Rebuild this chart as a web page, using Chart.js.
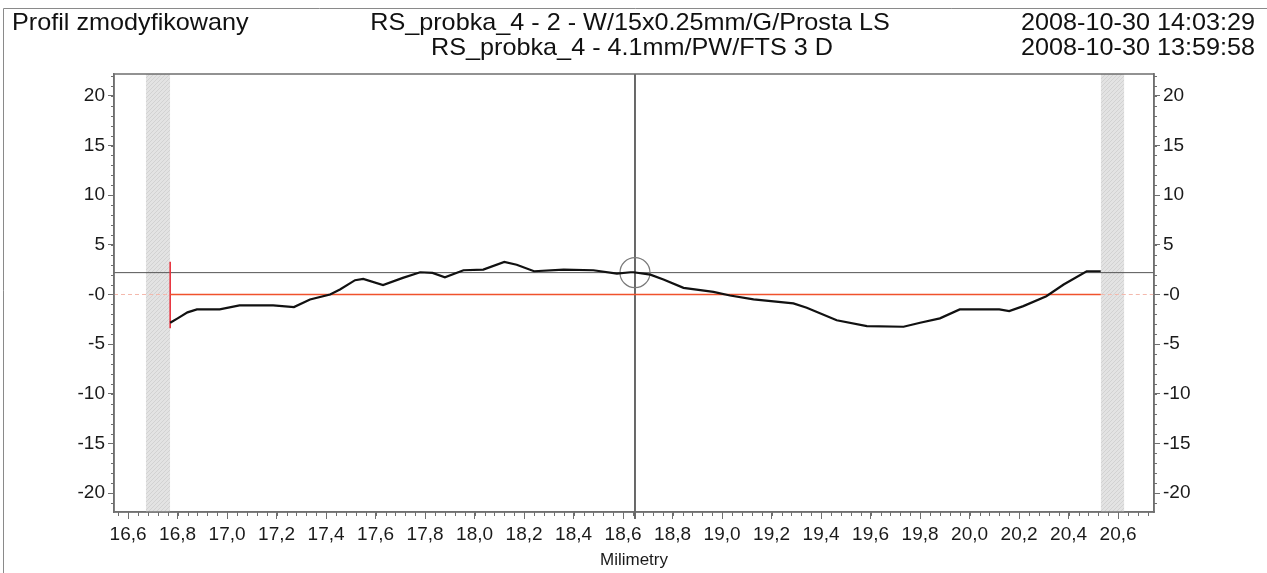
<!DOCTYPE html>
<html>
<head>
<meta charset="utf-8">
<title>Profil zmodyfikowany</title>
<script src="https://cdn.jsdelivr.net/npm/chart.js@4/dist/chart.umd.min.js"></script>
<style>
    html, body { margin: 0; padding: 0; background: #fff; }
    #wrap { width: 1267px; height: 573px; }
</style>
</head>
<body>
<div id="wrap"><canvas id="profileChart" width="1267" height="573"></canvas></div>
<script>
// Dane profilu
const profileX = [16.77, 16.80, 16.84, 16.878, 16.97, 17.05, 17.186, 17.27, 17.335, 17.416, 17.456, 17.517,
    17.55, 17.63, 17.71, 17.78, 17.83, 17.88, 17.955, 18.035, 18.12, 18.17, 18.24, 18.36,
    18.48, 18.575, 18.63, 18.642, 18.71, 18.763, 18.844, 18.965, 19.032, 19.127, 19.288, 19.342,
    19.463, 19.585, 19.733, 19.8, 19.88, 19.96, 20.12, 20.16, 20.217, 20.31, 20.38, 20.473, 20.53];
const profileY = [-2.85, -2.4, -1.8, -1.5, -1.5, -1.1, -1.1, -1.27, -0.5, 0, 0.5, 1.44,
    1.57, 0.94, 1.67, 2.24, 2.18, 1.74, 2.44, 2.51, 3.28, 3.0, 2.34, 2.5,
    2.44, 2.1, 2.24, 2.24, 2.0, 1.5, 0.67, 0.27, -0.1, -0.5, -0.9, -1.34,
    -2.6, -3.18, -3.25, -2.85, -2.4, -1.5, -1.5, -1.67, -1.17, -0.17, 1.0, 2.34, 2.34];

// Zakresy osi i etykiety
const xRange = [16.543, 20.745];
const yRange = [-21.9, 22.2];
const xTickValues = [16.6, 16.8, 17.0, 17.2, 17.4, 17.6, 17.8, 18.0, 18.2, 18.4, 18.6, 18.8, 19.0, 19.2, 19.4, 19.6, 19.8, 20.0, 20.2, 20.4, 20.6];
const yTickValues = [20, 15, 10, 5, 0, -5, -10, -15, -20];
const xMinorStep = 0.04;
const yMinorStep = 1;

// Elementy pomocnicze
const refStart = 16.77;      // czerwona linia startowa
const refEnd = 20.53;        // koniec linii odniesienia
const refLevel = 0;
const refMarker = [-3.4, 3.3];
const cursorX = 18.648;      // kursor
const cursorY = 2.2;
const leftBand = [16.672, 16.77];
const rightBand = [20.53, 20.625];

// Nagłówki
const headerLeft = 'Profil zmodyfikowany';
const headerMid = ['RS_probka_4 - 2 - W/15x0.25mm/G/Prosta LS', 'RS_probka_4 - 4.1mm/PW/FTS 3 D'];
const headerRight = ['2008-10-30 14:03:29', '2008-10-30 13:59:58'];

const FONT = "'Liberation Sans', Arial, sans-serif";
const AXIS_COLOR = '#6f6f6f';

function pts(xs, ys) {
    return xs.map((x, i) => ({ x: x, y: ys[i] }));
}

// Wzór kreskowania pasów
function makeHatch() {
    const c = document.createElement('canvas');
    c.width = 4; c.height = 4;
    const g = c.getContext('2d');
    g.fillStyle = '#e3e3e3';
    g.fillRect(0, 0, 4, 4);
    g.strokeStyle = '#d2d2d2';
    g.lineWidth = 1;
    g.beginPath();
    g.moveTo(0, 4); g.lineTo(4, 0);
    g.stroke();
    return g.createPattern(c, 'repeat');
}

// Plugin: tło, ramka, podziałki pomocnicze i nagłówki
const decorPlugin = {
    id: 'decor',
    beforeDraw(chart) {
        const ctx = chart.ctx;
        ctx.save();
        ctx.fillStyle = '#fff';
        ctx.fillRect(0, 0, chart.width, chart.height);
        ctx.strokeStyle = '#8a8a8a';
        ctx.lineWidth = 1;
        ctx.beginPath();
        ctx.moveTo(3.5, chart.height);
        ctx.lineTo(3.5, 8.5);
        ctx.lineTo(chart.width, 8.5);
        ctx.stroke();
        ctx.restore();
    },
    afterDraw(chart) {
        const ctx = chart.ctx;
        const a = chart.chartArea;
        const sx = chart.scales.x, sy = chart.scales.y;
        ctx.save();
        ctx.strokeStyle = AXIS_COLOR;
        ctx.lineWidth = 1.5;
        ctx.strokeRect(a.left, a.top, a.right - a.left, a.bottom - a.top);

        // podziałki pomocnicze
        ctx.lineWidth = 1;
        ctx.beginPath();
        for (let v = Math.ceil(xRange[0] / xMinorStep) * xMinorStep; v <= xRange[1]; v += xMinorStep) {
            const px = Math.round(sx.getPixelForValue(v)) + 0.5;
            ctx.moveTo(px, a.bottom);
            ctx.lineTo(px, a.bottom + 4);
        }
        for (let v = Math.ceil(yRange[0]); v <= yRange[1]; v += yMinorStep) {
            const py = Math.round(sy.getPixelForValue(v)) + 0.5;
            ctx.moveTo(a.left, py);
            ctx.lineTo(a.left - 3, py);
            ctx.moveTo(a.right, py);
            ctx.lineTo(a.right + 3, py);
        }
        ctx.stroke();

        // nagłówki
        ctx.fillStyle = '#111';
        ctx.font = '24px ' + FONT;
        ctx.textBaseline = 'alphabetic';
        const stretch = 1.05;
        const drawText = (text, x, y, align) => {
            ctx.save();
            ctx.translate(x, y);
            ctx.scale(stretch, 1);
            ctx.textAlign = align;
            ctx.fillText(text, 0, 0);
            ctx.restore();
        };
        drawText(headerLeft, 12, 30, 'left');
        drawText(headerMid[0], 630, 30, 'center');
        drawText(headerMid[1], 632, 55, 'center');
        drawText(headerRight[0], 1255, 30, 'right');
        drawText(headerRight[1], 1255, 55, 'right');
        ctx.restore();
    }
};

function yAxis(position, width) {
    return {
        type: 'linear',
        position: position,
        min: yRange[0],
        max: yRange[1],
        afterBuildTicks: s => { s.ticks = yTickValues.map(v => ({ value: v })); },
        afterFit: s => { s.width = width; },
        grid: { drawOnChartArea: false, tickLength: 6, color: AXIS_COLOR },
        border: { color: AXIS_COLOR, width: 1.5 },
        ticks: {
            color: '#1a1a1a',
            padding: 3,
            font: { family: FONT, size: 19 },
            callback: v => (v === 0 ? '-0' : String(v))
        }
    };
}

const hatch = makeHatch();
const ctx = document.getElementById('profileChart');

new Chart(ctx, {
    type: 'line',
    data: {
        datasets: [
            {
                label: 'Profil',
                data: pts(profileX, profileY),
                borderColor: '#111',
                borderWidth: 2.2,
                pointRadius: 0,
                tension: 0,
                order: 1
            },
            {
                label: 'Kursor',
                data: [{ x: cursorX, y: cursorY }],
                showLine: false,
                pointRadius: 15,
                pointBorderWidth: 1.2,
                pointBorderColor: '#7a7a7a',
                pointBackgroundColor: 'rgba(0,0,0,0)',
                order: 2
            },
            {
                label: 'Linia odniesienia',
                data: [{ x: refStart, y: refLevel }, { x: refEnd, y: refLevel }],
                borderColor: '#f0522c',
                borderWidth: 1.6,
                pointRadius: 0,
                order: 3
            },
            {
                label: 'Start',
                data: [{ x: refStart, y: refMarker[0] }, { x: refStart, y: refMarker[1] }],
                borderColor: '#e8333f',
                borderWidth: 1.6,
                pointRadius: 0,
                order: 3
            },
            {
                label: 'Przedłużenie L',
                data: [{ x: xRange[0], y: refLevel }, { x: refStart, y: refLevel }],
                borderColor: '#f4b9ad',
                borderWidth: 1,
                borderDash: [4, 3],
                pointRadius: 0,
                order: 5
            },
            {
                label: 'Przedłużenie P',
                data: [{ x: refEnd, y: refLevel }, { x: xRange[1], y: refLevel }],
                borderColor: '#f4b9ad',
                borderWidth: 1,
                borderDash: [4, 3],
                pointRadius: 0,
                order: 5
            },
            {
                label: 'Poziom kursora',
                data: [{ x: xRange[0], y: cursorY }, { x: xRange[1], y: cursorY }],
                borderColor: '#555',
                borderWidth: 1,
                pointRadius: 0,
                order: 4
            },
            {
                label: 'Pion kursora',
                data: [{ x: cursorX, y: yRange[1] }, { x: cursorX, y: -22.6 }],
                borderColor: '#555',
                borderWidth: 1,
                pointRadius: 0,
                clip: false,
                order: 4
            },
            {
                label: 'Pas lewy',
                data: [{ x: leftBand[0], y: yRange[1] }, { x: leftBand[1], y: yRange[1] }],
                borderWidth: 0,
                pointRadius: 0,
                backgroundColor: hatch,
                fill: 'start',
                order: 9
            },
            {
                label: 'Pas prawy',
                data: [{ x: rightBand[0], y: yRange[1] }, { x: rightBand[1], y: yRange[1] }],
                borderWidth: 0,
                pointRadius: 0,
                backgroundColor: hatch,
                fill: 'start',
                order: 9
            }
        ]
    },
    options: {
        responsive: false,
        animation: false,
        events: [],
        devicePixelRatio: 1,
        layout: { padding: { top: 74, left: 0, right: 0, bottom: 0 } },
        plugins: {
            legend: { display: false },
            tooltip: { enabled: false }
        },
        scales: {
            x: {
                type: 'linear',
                position: 'bottom',
                min: xRange[0],
                max: xRange[1],
                afterBuildTicks: s => { s.ticks = xTickValues.map(v => ({ value: v })); },
                afterFit: s => { s.height = 61; },
                grid: { drawOnChartArea: false, tickLength: 7, color: AXIS_COLOR },
                border: { color: AXIS_COLOR, width: 1.5 },
                ticks: {
                    color: '#1a1a1a',
                    padding: 4,
                    maxRotation: 0,
                    autoSkip: false,
                    font: { family: FONT, size: 19 },
                    callback: v => v.toFixed(1).replace('.', ',')
                },
                title: {
                    display: true,
                    text: 'Milimetry',
                    color: '#1a1a1a',
                    padding: { top: 0, bottom: 2 },
                    font: { family: FONT, size: 17 }
                }
            },
            y: yAxis('left', 114),
            y2: yAxis('right', 113)
        }
    },
    plugins: [decorPlugin]
});
</script>
</body>
</html>
